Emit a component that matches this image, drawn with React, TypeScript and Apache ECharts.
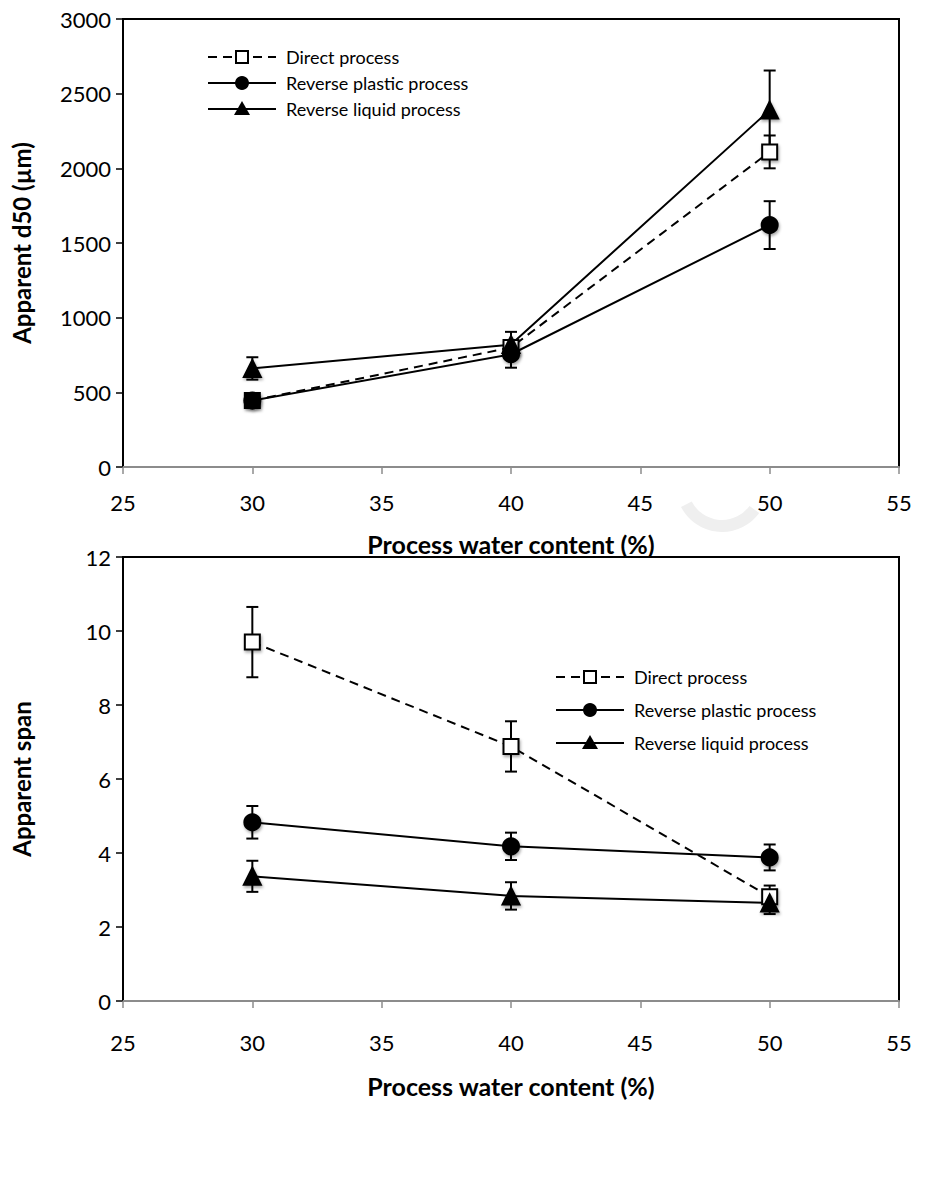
import React, { useEffect, useRef } from "react";
import * as echarts from "echarts";

// Process water content (%)
const waterContent = [30, 40, 50];

// Apparent d50 (µm) and its error bar half-widths
const d50Direct = [445, 800, 2110];
const d50DirectErr = [15, 40, 110];
const d50Plastic = [445, 755, 1620];
const d50PlasticErr = [15, 90, 160];
const d50Liquid = [660, 820, 2390];
const d50LiquidErr = [75, 85, 265];

// Apparent span and its error bar half-widths
const spanDirect = [9.7, 6.88, 2.82];
const spanDirectErr = [0.95, 0.68, 0.3];
const spanPlastic = [4.83, 4.18, 3.88];
const spanPlasticErr = [0.44, 0.37, 0.35];
const spanLiquid = [3.37, 2.84, 2.65];
const spanLiquidErr = [0.42, 0.37, 0.3];

const legendNames = ["Direct process", "Reverse plastic process", "Reverse liquid process"];

const FONT = "Lato, 'Open Sans', sans-serif";

const markerShadow = {
  shadowColor: "rgba(0,0,0,0.35)",
  shadowBlur: 3,
  shadowOffsetX: 1,
  shadowOffsetY: 2,
};

function errorSeries(gridIdx: number, vals: number[], errs: number[]) {
  return {
    type: "custom",
    xAxisIndex: gridIdx,
    yAxisIndex: gridIdx,
    z: 2,
    silent: true,
    data: waterContent.map((x, i) => [x, vals[i] - errs[i], vals[i] + errs[i]]),
    encode: { x: 0, y: [1, 2] },
    renderItem: (_params: any, api: any) => {
      const x = api.value(0);
      const lo = api.coord([x, api.value(1)]);
      const hi = api.coord([x, api.value(2)]);
      const w = 6;
      const st = { stroke: "#000", lineWidth: 2 };
      return {
        type: "group",
        children: [
          { type: "line", shape: { x1: lo[0], y1: lo[1], x2: hi[0], y2: hi[1] }, style: st },
          { type: "line", shape: { x1: lo[0] - w, y1: lo[1], x2: lo[0] + w, y2: lo[1] }, style: st },
          { type: "line", shape: { x1: hi[0] - w, y1: hi[1], x2: hi[0] + w, y2: hi[1] }, style: st },
        ],
      };
    },
  };
}

function lineSeries(
  gridIdx: number,
  name: string,
  vals: number[],
  symbol: string,
  dashed: boolean,
  fill: string,
  size: number,
  overrides: Record<number, any> = {}
) {
  return {
    type: "line",
    name,
    xAxisIndex: gridIdx,
    yAxisIndex: gridIdx,
    z: 3,
    symbol,
    symbolSize: size,
    showAllSymbol: true,
    data: waterContent.map((x, i) =>
      overrides[i] ? { value: [x, vals[i]], itemStyle: overrides[i] } : [x, vals[i]]
    ),
    lineStyle: { color: "#000", width: 2, type: dashed ? [9, 6] : "solid" },
    itemStyle: { color: fill, borderColor: "#000", borderWidth: 2, ...markerShadow },
    emphasis: { disabled: true },
  };
}

function legendBlock(x: number, y: number, gap: number) {
  const children: any[] = [];
  const lineX1 = x;
  const lineX2 = x + 68;
  const mid = (lineX1 + lineX2) / 2;
  legendNames.forEach((name, i) => {
    const cy = y + i * gap;
    if (i === 0) {
      children.push({
        type: "line",
        shape: { x1: lineX1, y1: cy, x2: lineX2, y2: cy },
        style: { stroke: "#000", lineWidth: 2, lineDash: [9, 6] },
      });
      children.push({
        type: "rect",
        shape: { x: mid - 6, y: cy - 6, width: 12, height: 12 },
        style: { fill: "#fff", stroke: "#000", lineWidth: 2 },
      });
    } else {
      children.push({
        type: "line",
        shape: { x1: lineX1, y1: cy, x2: lineX2, y2: cy },
        style: { stroke: "#000", lineWidth: 2 },
      });
      if (i === 1) {
        children.push({ type: "circle", shape: { cx: mid, cy, r: 7 }, style: { fill: "#000" } });
      } else {
        children.push({
          type: "polygon",
          shape: { points: [[mid, cy - 8], [mid + 8, cy + 6], [mid - 8, cy + 6]] },
          style: { fill: "#000" },
        });
      }
    }
    children.push({
      type: "text",
      x: lineX2 + 10,
      y: cy,
      style: {
        text: name,
        font: `18px ${FONT}`,
        fill: "#000",
        verticalAlign: "middle",
        align: "left",
      },
    });
  });
  return { type: "group", children };
}

const plain = (v: number) => String(v);

function xAxisCfg(gridIndex: number, labelMargin: number, nameGap: number) {
  return {
    type: "value",
    gridIndex,
    min: 25,
    max: 55,
    interval: 5,
    name: "Process water content (%)",
    nameLocation: "middle",
    nameGap,
    nameTextStyle: { fontFamily: FONT, fontSize: 25, fontWeight: "bold", color: "#000" },
    axisLine: { show: true, onZero: false, lineStyle: { color: "#8c8c8c", width: 2 } },
    axisTick: { show: true, inside: false, length: 7, lineStyle: { color: "#8c8c8c", width: 1.5 } },
    axisLabel: { fontFamily: FONT, fontSize: 22, color: "#000", margin: labelMargin, formatter: plain },
    splitLine: { show: false },
  };
}

function yAxisCfg(gridIndex: number, name: string, max: number, interval: number, nameGap: number) {
  return {
    type: "value",
    gridIndex,
    min: 0,
    max,
    interval,
    name,
    nameLocation: "middle",
    nameGap,
    nameTextStyle: { fontFamily: FONT, fontSize: 24, fontWeight: "bold", color: "#000" },
    axisLine: { show: true, lineStyle: { color: "#000", width: 2 } },
    axisTick: { show: true, inside: false, length: 7, lineStyle: { color: "#000", width: 1.5 } },
    axisLabel: { fontFamily: FONT, fontSize: 22, color: "#000", margin: 12, formatter: plain },
    splitLine: { show: false },
  };
}

export default function App() {
  const ref = useRef<HTMLDivElement>(null);

  useEffect(() => {
    if (!ref.current) return;
    const chart = echarts.init(ref.current, null, { renderer: "svg" });
    chart.setOption({
      animation: false,
      backgroundColor: "#fff",
      grid: [
        { left: 123, top: 19, width: 776, height: 448, show: true, borderColor: "#000", borderWidth: 2, backgroundColor: "transparent" },
        { left: 123, top: 557, width: 776, height: 444, show: true, borderColor: "#000", borderWidth: 2, backgroundColor: "transparent" },
      ],
      xAxis: [xAxisCfg(0, 24, 64), xAxisCfg(1, 30, 72)],
      yAxis: [
        yAxisCfg(0, "Apparent d50 (µm)", 3000, 500, 90),
        yAxisCfg(1, "Apparent span", 12, 2, 90),
      ],
      series: [
        // direct process drawn first, the reverse processes on top of it
        errorSeries(0, d50Direct, d50DirectErr),
        errorSeries(0, d50Plastic, d50PlasticErr),
        errorSeries(0, d50Liquid, d50LiquidErr),
        lineSeries(0, legendNames[0], d50Direct, "rect", true, "#fff", 15, { 0: { color: "#000" } }),
        lineSeries(0, legendNames[1], d50Plastic, "circle", false, "#000", 16),
        lineSeries(0, legendNames[2], d50Liquid, "triangle", false, "#000", 17),
        errorSeries(1, spanDirect, spanDirectErr),
        errorSeries(1, spanPlastic, spanPlasticErr),
        errorSeries(1, spanLiquid, spanLiquidErr),
        lineSeries(1, legendNames[0], spanDirect, "rect", true, "#fff", 15),
        lineSeries(1, legendNames[1], spanPlastic, "circle", false, "#000", 16),
        lineSeries(1, legendNames[2], spanLiquid, "triangle", false, "#000", 17),
      ],
      graphic: [
        legendBlock(208, 57, 26),
        legendBlock(556, 677, 33),
        {
          type: "arc",
          silent: true,
          shape: { cx: 722, cy: 486, r: 40, startAngle: Math.PI * 0.2, endAngle: Math.PI * 0.85 },
          style: { stroke: "#efefef", lineWidth: 12, fill: "none" },
        },
      ],
    });
    return () => chart.dispose();
  }, []);

  return (
    <div
      ref={ref}
      style={{ position: "absolute", left: 0, top: 0, width: 931, height: 1178, background: "#fff" }}
    />
  );
}
